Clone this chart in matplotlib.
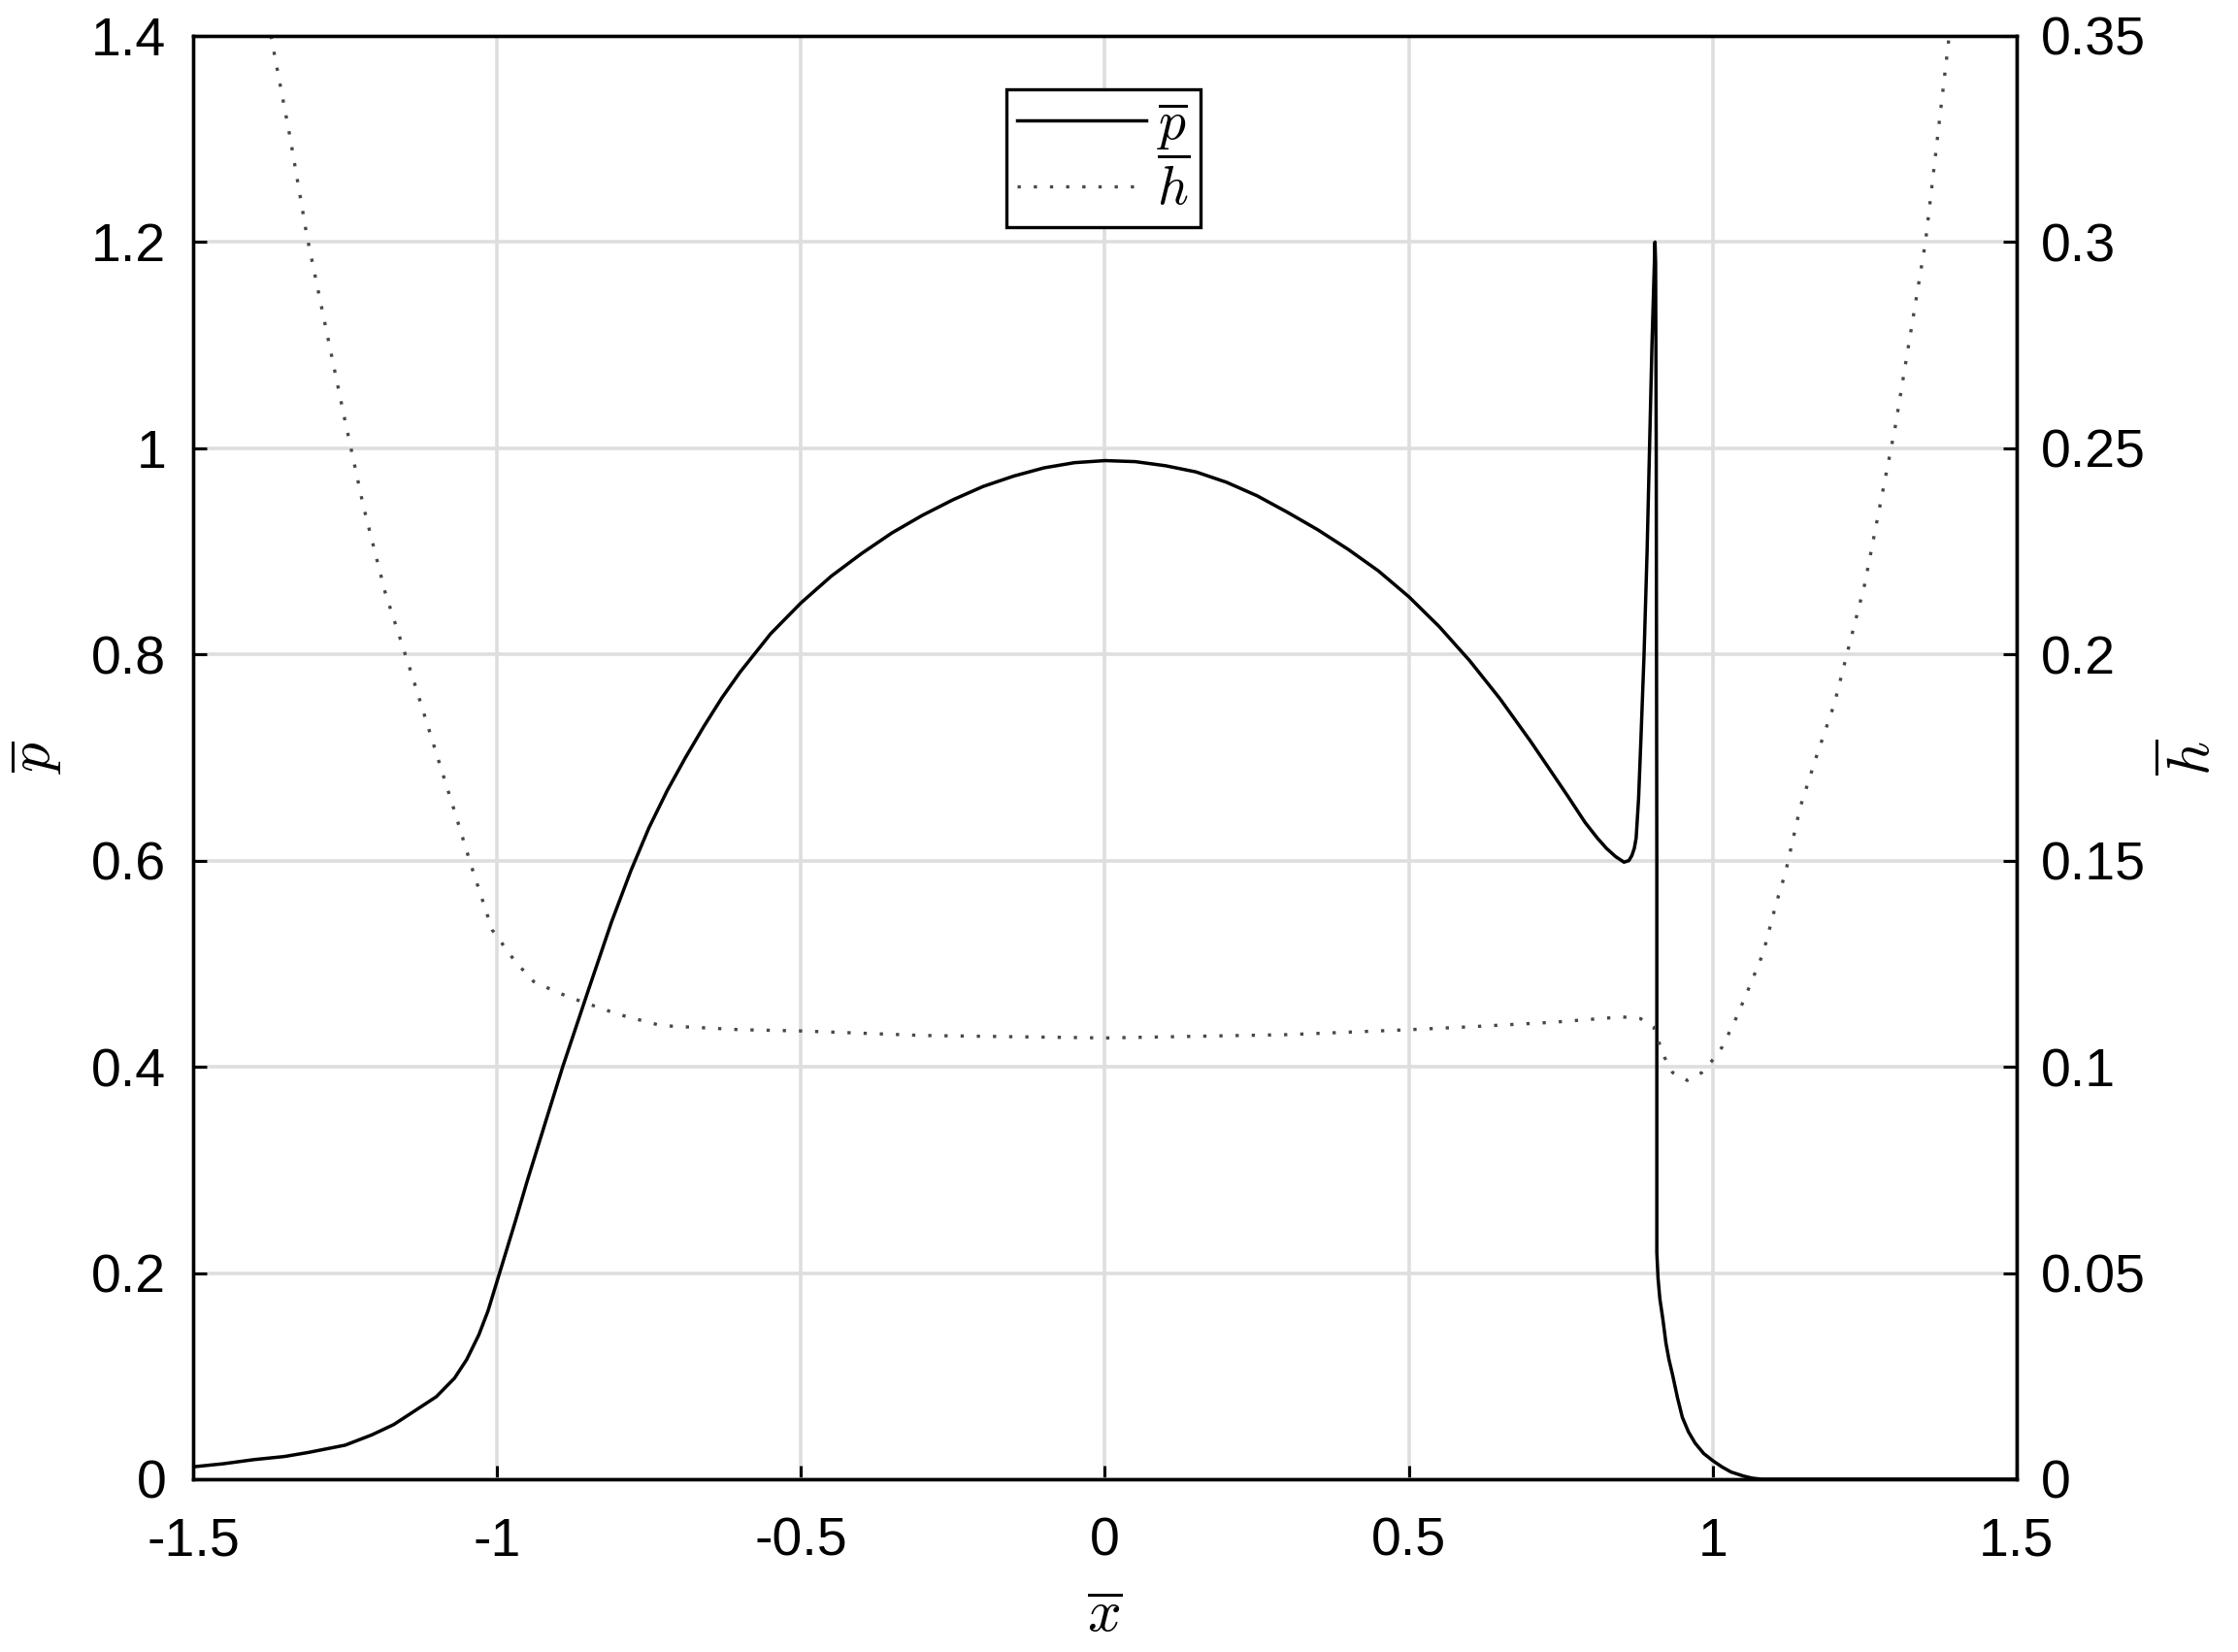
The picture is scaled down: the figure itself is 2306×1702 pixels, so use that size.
import matplotlib
matplotlib.use('Agg')
import matplotlib.pyplot as plt

# Pressure profile p(x)
p_x = [-1.5, -1.45, -1.4, -1.35, -1.31, -1.25, -1.206, -1.17, -1.131, -1.1,
       -1.07, -1.05, -1.03, -1.015, -1.0, -0.97, -0.95, -0.92, -0.892, -0.85,
       -0.812, -0.78, -0.75, -0.72, -0.69, -0.66, -0.63, -0.6, -0.55, -0.5,
       -0.45, -0.4, -0.35, -0.3, -0.25, -0.2, -0.15, -0.1, -0.05, 0.0,
       0.05, 0.1, 0.15, 0.2, 0.25, 0.3, 0.35, 0.4, 0.45, 0.5,
       0.55, 0.6, 0.65, 0.7, 0.73, 0.761, 0.79, 0.81, 0.825, 0.84,
       0.854, 0.862, 0.867, 0.871, 0.874, 0.878, 0.882, 0.887, 0.892, 0.896,
       0.900, 0.903, 0.905, 0.906, 0.907, 0.908, 0.908, 0.910, 0.913, 0.918,
       0.923, 0.928, 0.934, 0.942, 0.95, 0.96, 0.971, 0.985, 1.0, 1.015,
       1.03, 1.051, 1.065, 1.08, 1.5]
p_val = [0.012, 0.015, 0.019, 0.022, 0.026, 0.033, 0.043, 0.053, 0.068, 0.080,
         0.098, 0.116, 0.140, 0.163, 0.192, 0.250, 0.29, 0.347, 0.40, 0.474,
         0.54, 0.59, 0.632, 0.668, 0.700, 0.730, 0.758, 0.783, 0.820, 0.850,
         0.876, 0.898, 0.918, 0.935, 0.950, 0.963, 0.973, 0.981, 0.986, 0.988,
         0.987, 0.983, 0.977, 0.967, 0.954, 0.938, 0.921, 0.902, 0.881, 0.856,
         0.827, 0.794, 0.757, 0.716, 0.690, 0.663, 0.637, 0.622, 0.612, 0.604,
         0.5985, 0.600, 0.605, 0.612, 0.622, 0.66, 0.72, 0.80, 0.90, 1.0,
         1.1, 1.16, 1.2, 1.18, 1.0, 0.6, 0.22, 0.195, 0.175, 0.155,
         0.132, 0.116, 0.101, 0.079, 0.060, 0.046, 0.035, 0.025, 0.018, 0.012,
         0.007, 0.003, 0.001, 0.0, 0.0]

# Film thickness h(x)
h_x = [-1.372, -1.34, -1.313, -1.28, -1.252, -1.22, -1.184, -1.14, -1.102, -1.07,
       -1.043, -1.008, -0.97, -0.94, -0.9, -0.87, -0.8, -0.73, -0.6, -0.5,
       -0.3, 0.0, 0.3, 0.5, 0.6, 0.737, 0.798, 0.851, 0.881, 0.903,
       0.913, 0.921, 0.934, 0.958, 0.982, 0.999, 1.016, 1.04, 1.062, 1.083,
       1.104, 1.12, 1.144, 1.17, 1.2, 1.25, 1.3, 1.35, 1.389]
h_val = [0.35, 0.325, 0.3016, 0.278, 0.258, 0.236, 0.215, 0.195, 0.177, 0.162,
         0.149, 0.1332, 0.1255, 0.1207, 0.118, 0.1163, 0.1127, 0.110, 0.109, 0.1087,
         0.1076, 0.107, 0.1078, 0.109, 0.1097, 0.1108, 0.1115, 0.1121, 0.1117, 0.1096,
         0.1053, 0.1022, 0.0986, 0.0967, 0.0986, 0.1015, 0.1049, 0.1123, 0.120, 0.1276,
         0.1394, 0.1473, 0.163, 0.175, 0.188, 0.217, 0.255, 0.300, 0.35]

x_ticks = [-1.5, -1, -0.5, 0, 0.5, 1, 1.5]
x_labels = ['-1.5', '-1', '-0.5', '0', '0.5', '1', '1.5']
p_ticks = [0, 0.2, 0.4, 0.6, 0.8, 1.0, 1.2, 1.4]
p_labels = ['0', '0.2', '0.4', '0.6', '0.8', '1', '1.2', '1.4']
h_ticks = [0, 0.05, 0.1, 0.15, 0.2, 0.25, 0.3, 0.35]
h_labels = ['0', '0.05', '0.1', '0.15', '0.2', '0.25', '0.3', '0.35']

plt.rcParams['font.family'] = ['Liberation Sans', 'DejaVu Sans']
plt.rcParams['mathtext.fontset'] = 'cm'

fig = plt.figure(figsize=(11.53, 8.51), dpi=200)
ax = fig.add_axes([0.0863, 0.1046, 0.8148, 0.8737])
ax2 = ax.twinx()

line_p, = ax.plot(p_x, p_val, color='black', lw=1.25, label=r'$\overline{p}$')
line_h, = ax2.plot(h_x, h_val, color='#484848', lw=1.2, dashes=(1, 4),
                   label=r'$\overline{h}$')

ax.set_xlim(-1.5, 1.5)
ax.set_ylim(0, 1.4)
ax2.set_ylim(0, 0.35)

ax.set_xticks(x_ticks, x_labels)
ax.set_yticks(p_ticks, p_labels)
ax2.set_yticks(h_ticks, h_labels)

ax.grid(True, color='#dedede', lw=1.3)
ax.set_axisbelow(True)

for a in (ax, ax2):
    for s in a.spines.values():
        s.set_linewidth(1.2)
        s.set_color('black')
ax.tick_params(axis='both', direction='in', length=5, width=1.1, labelsize=20)
ax.tick_params(axis='x', pad=14)
ax.tick_params(axis='y', pad=10)
ax2.tick_params(axis='y', direction='in', length=5, width=1.1, labelsize=20, pad=9)

ax.set_xlabel(r'$\overline{x}$', fontsize=22, labelpad=8)
ax.set_ylabel(r'$\overline{p}$', fontsize=22, labelpad=10)
ax2.set_ylabel(r'$\overline{h}$', fontsize=22, labelpad=6, rotation=90)

leg = ax2.legend(handles=[line_p, line_h], loc='upper left',
                 bbox_to_anchor=(0.4458, 0.9628), borderaxespad=0,
                 fontsize=20, handlelength=2.4, handletextpad=0.2,
                 labelspacing=0.15, borderpad=0.2, fancybox=False,
                 framealpha=1, edgecolor='black')
leg.get_frame().set_linewidth(1.2)

fig.savefig('out.png', dpi=200)
